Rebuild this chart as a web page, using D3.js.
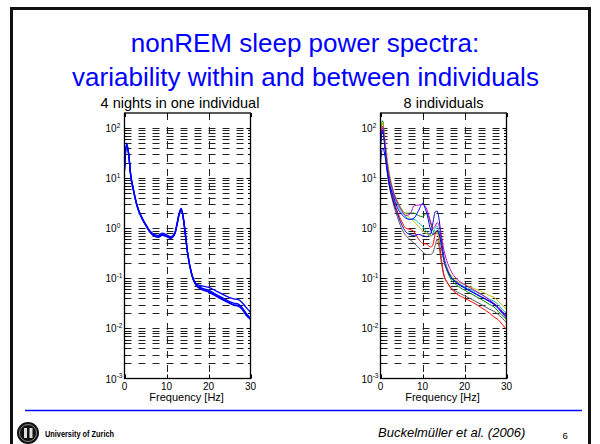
<!DOCTYPE html>
<html>
<head>
<meta charset="utf-8">
<script src="https://cdn.jsdelivr.net/npm/d3@7"></script>
<style>
  html, body { margin: 0; padding: 0; background: #fff; }
  svg { display: block; font-family: "Liberation Sans", Arial, Helvetica, sans-serif; }
</style>
</head>
<body>
<svg id="chart" width="600" height="444"></svg>
<script>
'use strict';

// --- data ----------------------------------------------------------------
var freqs = [0, 0.5, 1, 1.5, 2, 3, 4, 5, 6, 7, 8, 9, 10, 11, 12, 12.5, 13, 13.5, 14, 14.5, 15, 16, 17, 18, 20, 22, 24, 26, 27, 28, 29, 30];

// 4 nights, one individual
var night1 = [15, 48, 30, 11, 6.5, 2.8, 1.7, 1.2, 0.88, 0.74, 0.69, 0.76, 0.70, 0.66, 0.80, 1.2, 1.9, 2.4, 1.6, 0.75, 0.33, 0.12, 0.075, 0.066, 0.058, 0.047, 0.038, 0.032, 0.031, 0.026, 0.020, 0.016];
var night2 = [14, 45, 29, 10.5, 6.3, 2.7, 1.65, 1.15, 0.85, 0.70, 0.66, 0.72, 0.68, 0.63, 0.78, 1.15, 1.85, 2.3, 1.55, 0.72, 0.32, 0.12, 0.078, 0.072, 0.066, 0.055, 0.045, 0.039, 0.038, 0.033, 0.026, 0.021];
var night3 = [16, 50, 31, 11.5, 6.8, 2.9, 1.75, 1.22, 0.90, 0.76, 0.72, 0.80, 0.74, 0.68, 0.82, 1.25, 2.0, 2.5, 1.65, 0.78, 0.34, 0.125, 0.076, 0.064, 0.055, 0.044, 0.036, 0.030, 0.029, 0.025, 0.019, 0.015];
var night4 = [15, 47, 30, 11, 6.6, 2.8, 1.7, 1.18, 0.86, 0.72, 0.67, 0.74, 0.69, 0.65, 0.79, 1.2, 1.9, 2.35, 1.6, 0.74, 0.33, 0.118, 0.073, 0.062, 0.053, 0.043, 0.035, 0.029, 0.028, 0.024, 0.018, 0.0155];

// 8 individuals
var subjGreen   = [60, 140, 60, 25, 13, 5.5, 3.5, 2.4, 2.0, 2.0, 2.0, 1.8, 1.7, 2.0, 1.2, 0.9, 0.8, 0.9, 0.85, 0.5, 0.25, 0.13, 0.09, 0.075, 0.058, 0.047, 0.038, 0.030, 0.027, 0.022, 0.018, 0.015];
var subjMagenta = [50, 110, 55, 22, 12, 5.5, 3.3, 2.3, 1.8, 1.9, 2.8, 2.9, 3.0, 2.4, 1.3, 1.0, 1.1, 1.3, 1.1, 0.7, 0.4, 0.2, 0.13, 0.10, 0.075, 0.060, 0.048, 0.037, 0.032, 0.027, 0.022, 0.018];
var subjCyan    = [55, 100, 50, 20, 11, 5.0, 3.0, 2.1, 1.7, 1.5, 1.5, 1.3, 1.1, 0.85, 0.7, 0.75, 1.0, 1.1, 0.8, 0.45, 0.25, 0.14, 0.10, 0.085, 0.068, 0.057, 0.048, 0.038, 0.035, 0.030, 0.024, 0.020];
var subjYellow  = [60, 130, 65, 28, 14, 6.0, 3.5, 2.4, 1.9, 1.6, 1.35, 1.1, 0.9, 0.78, 0.72, 0.75, 0.85, 0.8, 0.6, 0.4, 0.25, 0.15, 0.11, 0.09, 0.075, 0.064, 0.055, 0.045, 0.042, 0.035, 0.029, 0.024];
var subjBlue1   = [40, 90, 45, 18, 9, 4.5, 2.6, 1.9, 1.6, 1.5, 1.6, 2.2, 3.1, 2.0, 0.9, 0.75, 0.8, 0.9, 0.75, 0.45, 0.25, 0.14, 0.10, 0.085, 0.065, 0.053, 0.043, 0.035, 0.031, 0.026, 0.021, 0.017];
var subjBlue2   = [20, 40, 30, 15, 8, 3.5, 2.0, 1.2, 0.85, 0.75, 0.72, 0.75, 0.72, 0.68, 0.8, 1.3, 2.1, 2.2, 1.4, 0.6, 0.3, 0.15, 0.10, 0.082, 0.064, 0.052, 0.042, 0.034, 0.030, 0.025, 0.020, 0.016];
var subjRed     = [50, 100, 55, 20, 10, 4.0, 2.2, 1.4, 1.0, 0.95, 0.85, 0.62, 0.5, 0.48, 0.42, 0.48, 0.75, 0.9, 0.55, 0.25, 0.13, 0.08, 0.06, 0.05, 0.040, 0.033, 0.026, 0.020, 0.017, 0.015, 0.012, 0.0095];
var subjGray    = [45, 95, 45, 17, 8, 3.2, 1.7, 1.0, 0.72, 0.6, 0.5, 0.42, 0.34, 0.3, 0.3, 0.33, 0.45, 0.6, 0.4, 0.2, 0.12, 0.08, 0.062, 0.055, 0.045, 0.037, 0.030, 0.024, 0.022, 0.019, 0.016, 0.013];

var xTicks = [0, 10, 20, 30];
var yDecades = [-3, -2, -1, 0, 1, 2];

var panels = [
  {
    left: 124.5, title: '4 nights in one individual', titleX: 180, labelX: 186.6,
    series: [night1, night2, night3, night4],
    colors: ['#0000ff', '#0000ff', '#0000ff', '#0000ff'],
    lineWidth: 1.3
  },
  {
    left: 380.5, title: '8 individuals', titleX: 443.5, labelX: 442.5,
    series: [subjGray, subjRed, subjGreen, subjBlue2, subjCyan, subjYellow, subjMagenta, subjBlue1],
    colors: ['#555555', '#ff0000', '#008000', '#0000cc', '#00bfbf', '#bfbf00', '#bf00bf', '#0000ff'],
    lineWidth: 1
  }
];

// --- layout --------------------------------------------------------------
var plotW = 126, plotTop = 113, plotBottom = 378.5;
var blue = '#0000ff';
var svg = d3.select('#chart');

// slide frame
svg.append('rect')
  .attr('x', 11.5).attr('y', 8.5)
  .attr('width', 578).attr('height', 470)
  .attr('fill', 'none')
  .attr('stroke', '#111')
  .attr('stroke-width', 3);

// slide title
svg.append('text')
  .attr('x', 305).attr('y', 51.5)
  .attr('text-anchor', 'middle')
  .attr('font-size', 26).attr('fill', blue)
  .text('nonREM sleep power spectra:');
svg.append('text')
  .attr('x', 305.5).attr('y', 86)
  .attr('text-anchor', 'middle')
  .attr('font-size', 26).attr('fill', blue)
  .text('variability within and between individuals');

panels.forEach(function(p) {
  var x = d3.scaleLinear().domain([0, 30]).range([p.left, p.left + plotW]);
  var y = d3.scaleLog().domain([1e-3, 200]).range([plotBottom, plotTop]);
  var g = svg.append('g');

  var clipId = 'clip' + Math.round(p.left);
  g.append('clipPath').attr('id', clipId)
    .append('rect')
    .attr('x', p.left).attr('y', plotTop)
    .attr('width', plotW).attr('height', plotBottom - plotTop);

  // log grid values: 1..9 x 10^k inside the domain
  var gridVals = [];
  yDecades.forEach(function(k) {
    d3.range(1, 10).forEach(function(m) {
      var v = m * Math.pow(10, k);
      if (v > 1e-3 && v < 200) gridVals.push({ v: v, major: m === 1 });
    });
  });

  // horizontal dashed grid
  g.selectAll('line.hgrid')
    .data(gridVals)
    .enter().append('line')
    .attr('class', 'hgrid')
    .attr('x1', p.left).attr('x2', p.left + plotW)
    .attr('y1', function(d) { return Math.round(y(d.v)) + 0.5; })
    .attr('y2', function(d) { return Math.round(y(d.v)) + 0.5; })
    .attr('stroke', '#222')
    .attr('stroke-width', 1)
    .attr('stroke-dasharray', '7,7');

  // vertical dashed grid at 10, 20
  g.selectAll('line.vgrid')
    .data([10, 20])
    .enter().append('line')
    .attr('class', 'vgrid')
    .attr('x1', function(d) { return Math.round(x(d)) + 0.5; })
    .attr('x2', function(d) { return Math.round(x(d)) + 0.5; })
    .attr('y1', plotTop).attr('y2', plotBottom)
    .attr('stroke', '#222')
    .attr('stroke-width', 1)
    .attr('stroke-dasharray', '7,7');

  // y ticks, inward on both sides
  g.selectAll('path.ytick')
    .data(gridVals)
    .enter().append('path')
    .attr('class', 'ytick')
    .attr('d', function(d) {
      var yy = Math.round(y(d.v)) + 0.5, len = d.major ? 4 : 2.5;
      return 'M' + p.left + ',' + yy + 'h' + len + 'M' + (p.left + plotW) + ',' + yy + 'h' + (-len);
    })
    .attr('stroke', '#000').attr('stroke-width', 1);

  // x ticks, inward top and bottom
  g.selectAll('path.xtick')
    .data(xTicks)
    .enter().append('path')
    .attr('class', 'xtick')
    .attr('d', function(d) {
      var xx = Math.round(x(d)) + 0.5;
      return 'M' + xx + ',' + plotBottom + 'v-4M' + xx + ',' + plotTop + 'v4';
    })
    .attr('stroke', '#000').attr('stroke-width', 1);

  // spectra
  var line = d3.line()
    .x(function(d, i) { return x(freqs[i]); })
    .y(function(d) { return y(d); })
    .curve(d3.curveMonotoneX);

  g.append('g').attr('clip-path', 'url(#' + clipId + ')')
    .selectAll('path.spec')
    .data(p.series)
    .enter().append('path')
    .attr('class', 'spec')
    .attr('d', line)
    .attr('fill', 'none')
    .attr('stroke', function(d, i) { return p.colors[i]; })
    .attr('stroke-width', p.lineWidth)
    .attr('stroke-linejoin', 'round');

  // axes box
  g.append('rect')
    .attr('x', p.left).attr('y', plotTop)
    .attr('width', plotW).attr('height', plotBottom - plotTop)
    .attr('fill', 'none')
    .attr('stroke', '#000').attr('stroke-width', 1.3);

  // y tick labels 10^k
  var ylab = g.selectAll('text.ylab')
    .data(yDecades)
    .enter().append('text')
    .attr('class', 'ylab')
    .attr('x', p.left - 19)
    .attr('y', function(d) { return y(Math.pow(10, d)) + 4; })
    .attr('font-size', 10).attr('fill', '#000');
  ylab.append('tspan').text('10');
  ylab.append('tspan')
    .attr('dy', -4.5).attr('font-size', 6.5)
    .text(function(d) { return d; });

  // x tick labels
  g.selectAll('text.xlab')
    .data(xTicks)
    .enter().append('text')
    .attr('class', 'xlab')
    .attr('x', function(d) { return x(d); })
    .attr('y', 389.5)
    .attr('text-anchor', 'middle')
    .attr('font-size', 10).attr('fill', '#000')
    .text(function(d) { return d; });

  g.append('text')
    .attr('x', p.labelX).attr('y', 400.5)
    .attr('text-anchor', 'middle')
    .attr('font-size', 11).attr('fill', '#000')
    .text('Frequency [Hz]');

  g.append('text')
    .attr('x', p.titleX).attr('y', 108.3)
    .attr('text-anchor', 'middle')
    .attr('font-size', 14.5).attr('fill', '#000')
    .text(p.title);
});

// footer
svg.append('line')
  .attr('x1', 25).attr('x2', 582)
  .attr('y1', 410.5).attr('y2', 410.5)
  .attr('stroke', blue).attr('stroke-width', 1.5);

var logo = svg.append('g').attr('transform', 'translate(28,433)');
logo.append('circle').attr('r', 11).attr('fill', '#111');
logo.append('circle').attr('r', 8.5).attr('fill', 'none').attr('stroke', '#888').attr('stroke-width', 1);
logo.append('rect').attr('x', -4).attr('y', -5).attr('width', 3).attr('height', 10).attr('fill', '#ddd');
logo.append('rect').attr('x', 1.5).attr('y', -5).attr('width', 3).attr('height', 10).attr('fill', '#ddd');
svg.append('text')
  .attr('x', 45).attr('y', 437)
  .attr('font-size', 9).attr('font-weight', 900)
  .attr('textLength', 69).attr('lengthAdjust', 'spacingAndGlyphs')
  .attr('fill', '#000')
  .text('University of Zurich');

svg.append('text')
  .attr('x', 378).attr('y', 437)
  .attr('font-size', 13).attr('font-style', 'italic')
  .attr('fill', '#000')
  .text('Buckelmüller et al. (2006)');
svg.append('text')
  .attr('x', 562.5).attr('y', 439)
  .attr('font-size', 9.5).attr('fill', '#000')
  .text('6');
</script>
</body>
</html>
